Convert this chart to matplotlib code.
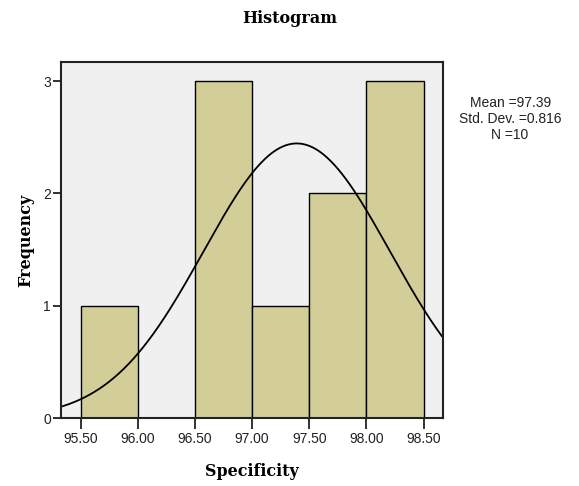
import numpy as np
import matplotlib
matplotlib.use("Agg")
from matplotlib import pyplot as plt

# histogram data
bin_edges = [95.5, 96.0, 96.5, 97.0, 97.5, 98.0, 98.5]
counts = [1, 0, 3, 1, 2, 3]
mean = 97.39
std_dev = 0.816
n = 10
tick_values = [95.5, 96.0, 96.5, 97.0, 97.5, 98.0, 98.5]
y_ticks = [0, 1, 2, 3]

fig = plt.figure(figsize=(5.79, 4.86), dpi=100)
ax = fig.add_axes([0.1048, 0.1399, 0.6608, 0.7315])
ax.set_facecolor('#f0f0f0')

widths = np.diff(bin_edges)
ax.bar(bin_edges[:-1], counts, width=widths, align='edge',
       color='#d3ce98', edgecolor='black', linewidth=1.0)

# fitted normal curve scaled to counts
xs = np.linspace(95.3, 98.7, 400)
bw = widths[0]
ys = n * bw / (std_dev * np.sqrt(2 * np.pi)) * np.exp(-0.5 * ((xs - mean) / std_dev) ** 2)
ax.plot(xs, ys, color='black', linewidth=1.3)

ax.set_xlim(95.325, 98.672)
ax.set_ylim(0, 3.165)
ax.set_xticks(tick_values)
ax.set_xticklabels(['%.2f' % v for v in tick_values])
ax.set_yticks(y_ticks)

for s in ax.spines.values():
    s.set_linewidth(1.5)
    s.set_color('#222222')
ax.tick_params(axis='x', length=8, width=1.3, color='#222222', pad=2)
ax.tick_params(axis='y', length=6, width=1.3, color='#222222', pad=1)
for lab in ax.get_xticklabels() + ax.get_yticklabels():
    lab.set_fontfamily('Liberation Sans')
    lab.set_fontsize(10)
    lab.set_color('#222222')

serif = dict(family='DejaVu Serif', weight='bold')
fig.text(0.501, 0.962, 'Histogram', ha='center', va='center', fontsize=11.5, **serif)
ax.set_xlabel('Specificity', fontsize=11.5, labelpad=12, **serif)
ax.set_ylabel('Frequency', fontsize=11.5, labelpad=6, **serif)

fig.text(0.881, 0.755, 'Mean =%.2f\nStd. Dev. =%.3f\nN =%d' % (mean, std_dev, n),
         ha='center', va='center', fontsize=10, family='Liberation Sans',
         linespacing=1.15, color='#222222')

fig.savefig('out.png', dpi=100)
